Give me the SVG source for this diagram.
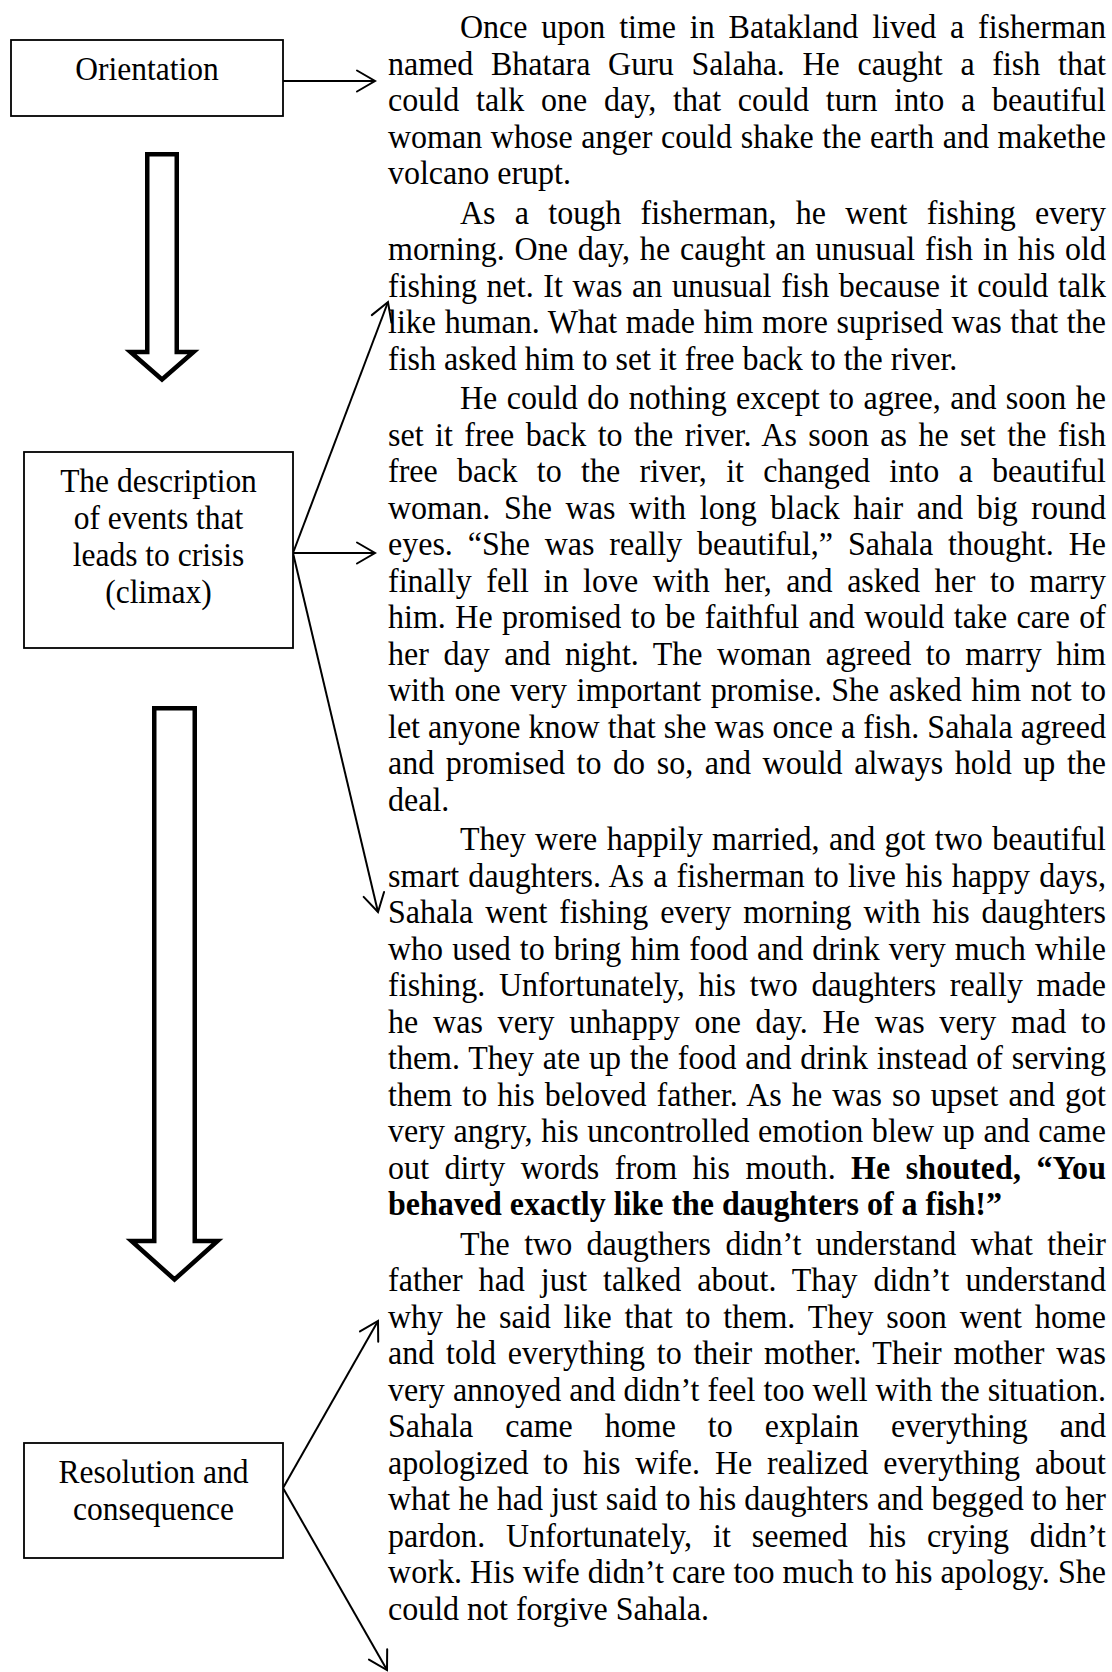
<svg xmlns="http://www.w3.org/2000/svg" width="1112" height="1672" viewBox="0 0 1112 1672">
<style>
.box{fill:#fff;stroke:#000;stroke-width:1.8}
.lbl{font-family:"Liberation Serif","Times New Roman",serif;font-size:31.5px;text-anchor:middle;fill:#000}
.t{font-family:"Liberation Serif","Times New Roman",serif;font-size:32px;fill:#000}
.bd{font-weight:bold}
.conn{stroke:#000;stroke-width:2;fill:none;marker-end:url(#ah)}
.big{fill:#fff;stroke:#000;stroke-width:4.5;stroke-linejoin:miter;stroke-miterlimit:10}
</style>
<defs>
<marker id="ah" markerUnits="userSpaceOnUse" markerWidth="30" markerHeight="30" viewBox="-25 -15 30 30" refX="0" refY="0" orient="auto" overflow="visible">
<path d="M-18,-10.5 L0,0 L-18,10.5" fill="none" stroke="#000" stroke-width="2" stroke-linecap="round" stroke-linejoin="miter"/>
</marker>
</defs>
<rect width="1112" height="1672" fill="#fff"/>

<g id="connectors">
<path class="big" d="M147.25,154.25 H176.75 V352 H193.5 L162,379.5 L130.5,352 H147.25 Z"/>
<path class="big" d="M154.25,708.25 H194.75 V1241 H217.5 L174.5,1279.5 L131.5,1241 H154.25 Z"/>
<path class="conn" d="M283,81 L375,81"/>
<path class="conn" d="M293,553 L388,302"/>
<path class="conn" d="M293,553 L375,553"/>
<path class="conn" d="M293,553 L378,912"/>
<path class="conn" d="M283,1488 L378,1321"/>
<path class="conn" d="M283,1488 L387,1670"/>
</g>

<g id="orientation">
<rect class="box" x="11" y="40" width="272" height="76"/>
<text class="lbl" transform="matrix(1 0 0 1.07 147 80)">Orientation</text>
</g>

<g id="climax">
<rect class="box" x="24" y="452" width="269" height="196"/>
<text class="lbl" transform="matrix(1 0 0 1.07 158.5 491.5)">The description</text>
<text class="lbl" transform="matrix(1 0 0 1.07 158.5 528.5)">of events that</text>
<text class="lbl" transform="matrix(1 0 0 1.07 158.5 565.5)">leads to crisis</text>
<text class="lbl" transform="matrix(1 0 0 1.07 158.5 602.5)">(climax)</text>
</g>

<g id="resolution">
<rect class="box" x="24" y="1443" width="259" height="115"/>
<text class="lbl" transform="matrix(1 0 0 1.07 153.5 1483)">Resolution and</text>
<text class="lbl" transform="matrix(1 0 0 1.07 153.5 1520)">consequence</text>
</g>

<g id="story">
<g id="p1">
<text class="t" transform="matrix(1 0 0 1.07 460 38)" word-spacing="5.83" textLength="646" lengthAdjust="spacing">Once upon time in Batakland lived a fisherman</text>
<text class="t" transform="matrix(1 0 0 1.07 388 74.5)" word-spacing="9.66" textLength="718" lengthAdjust="spacing">named Bhatara Guru Salaha. He caught a fish that</text>
<text class="t" transform="matrix(1 0 0 1.07 388 111)" word-spacing="8.68" textLength="718" lengthAdjust="spacing">could talk one day, that could turn into a beautiful</text>
<text class="t" transform="matrix(1 0 0 1.07 388 147.5)" word-spacing="0.66" textLength="718" lengthAdjust="spacing">woman whose anger could shake the earth and makethe</text>
<text class="t" transform="matrix(1 0 0 1.07 388 184)">volcano erupt.</text>
</g>
<g id="p2">
<text class="t" transform="matrix(1 0 0 1.07 460 223.5)" word-spacing="11.29" textLength="646" lengthAdjust="spacing">As a tough fisherman, he went fishing every</text>
<text class="t" transform="matrix(1 0 0 1.07 388 260)" word-spacing="1.76" textLength="718" lengthAdjust="spacing">morning. One day, he caught an unusual fish in his old</text>
<text class="t" transform="matrix(1 0 0 1.07 388 296.5)" word-spacing="1.68" textLength="718" lengthAdjust="spacing">fishing net. It was an unusual fish because it could talk</text>
<text class="t" transform="matrix(1 0 0 1.07 388 333)" word-spacing="0.58" textLength="718" lengthAdjust="spacing">like human. What made him more suprised was that the</text>
<text class="t" transform="matrix(1 0 0 1.07 388 369.5)">fish asked him to set it free back to the river.</text>
</g>
<g id="p3">
<text class="t" transform="matrix(1 0 0 1.07 460 409)" word-spacing="1.47" textLength="646" lengthAdjust="spacing">He could do nothing except to agree, and soon he</text>
<text class="t" transform="matrix(1 0 0 1.07 388 445.5)" word-spacing="3.28" textLength="718" lengthAdjust="spacing">set it free back to the river. As soon as he set the fish</text>
<text class="t" transform="matrix(1 0 0 1.07 388 482)" word-spacing="11.26" textLength="718" lengthAdjust="spacing">free back to the river, it changed into a beautiful</text>
<text class="t" transform="matrix(1 0 0 1.07 388 518.5)" word-spacing="5.71" textLength="718" lengthAdjust="spacing">woman. She was with long black hair and big round</text>
<text class="t" transform="matrix(1 0 0 1.07 388 555)" word-spacing="6.84" textLength="718" lengthAdjust="spacing">eyes. “She was really beautiful,” Sahala thought. He</text>
<text class="t" transform="matrix(1 0 0 1.07 388 591.5)" word-spacing="6.48" textLength="718" lengthAdjust="spacing">finally fell in love with her, and asked her to marry</text>
<text class="t" transform="matrix(1 0 0 1.07 388 628)" word-spacing="1.5" textLength="718" lengthAdjust="spacing">him. He promised to be faithful and would take care of</text>
<text class="t" transform="matrix(1 0 0 1.07 388 664.5)" word-spacing="6.51" textLength="718" lengthAdjust="spacing">her day and night. The woman agreed to marry him</text>
<text class="t" transform="matrix(1 0 0 1.07 388 701)" word-spacing="1.56" textLength="718" lengthAdjust="spacing">with one very important promise. She asked him not to</text>
<text class="t" transform="matrix(1 0 0 1.07 388 737.5)" word-spacing="0.08" textLength="718" lengthAdjust="spacing">let anyone know that she was once a fish. Sahala agreed</text>
<text class="t" transform="matrix(1 0 0 1.07 388 774)" word-spacing="3.63" textLength="718" lengthAdjust="spacing">and promised to do so, and would always hold up the</text>
<text class="t" transform="matrix(1 0 0 1.07 388 810.5)">deal.</text>
</g>
<g id="p4">
<text class="t" transform="matrix(1 0 0 1.07 460 850)" word-spacing="1.39" textLength="646" lengthAdjust="spacing">They were happily married, and got two beautiful</text>
<text class="t" transform="matrix(1 0 0 1.07 388 886.5)" word-spacing="1.07" textLength="718" lengthAdjust="spacing">smart daughters. As a fisherman to live his happy days,</text>
<text class="t" transform="matrix(1 0 0 1.07 388 923)" word-spacing="3.91" textLength="718" lengthAdjust="spacing">Sahala went fishing every morning with his daughters</text>
<text class="t" transform="matrix(1 0 0 1.07 388 959.5)" word-spacing="1.05" textLength="718" lengthAdjust="spacing">who used to bring him food and drink very much while</text>
<text class="t" transform="matrix(1 0 0 1.07 388 996)" word-spacing="5.6" textLength="718" lengthAdjust="spacing">fishing. Unfortunately, his two daughters really made</text>
<text class="t" transform="matrix(1 0 0 1.07 388 1032.5)" word-spacing="6.66" textLength="718" lengthAdjust="spacing">he was very unhappy one day. He was very mad to</text>
<text class="t" transform="matrix(1 0 0 1.07 388 1069)" word-spacing="0.79" textLength="718" lengthAdjust="spacing">them. They ate up the food and drink instead of serving</text>
<text class="t" transform="matrix(1 0 0 1.07 388 1105.5)" word-spacing="1.93" textLength="718" lengthAdjust="spacing">them to his beloved father. As he was so upset and got</text>
<text class="t" transform="matrix(1 0 0 1.07 388 1142)" word-spacing="0.54" textLength="718" lengthAdjust="spacing">very angry, his uncontrolled emotion blew up and came</text>
<text class="t" transform="matrix(1 0 0 1.07 388 1178.5)" word-spacing="7.3" textLength="718" lengthAdjust="spacing">out dirty words from his mouth. <tspan class="bd">He shouted, “You</tspan></text>
<text class="t bd" transform="matrix(1 0 0 1.07 388 1215)">behaved exactly like the daughters of a fish!”</text>
</g>
<g id="p5">
<text class="t" transform="matrix(1 0 0 1.07 460 1254.5)" word-spacing="6.35" textLength="646" lengthAdjust="spacing">The two daugthers didn’t understand what their</text>
<text class="t" transform="matrix(1 0 0 1.07 388 1291)" word-spacing="7.86" textLength="718" lengthAdjust="spacing">father had just talked about. Thay didn’t understand</text>
<text class="t" transform="matrix(1 0 0 1.07 388 1327.5)" word-spacing="4.87" textLength="718" lengthAdjust="spacing">why he said like that to them. They soon went home</text>
<text class="t" transform="matrix(1 0 0 1.07 388 1364)" word-spacing="3.65" textLength="718" lengthAdjust="spacing">and told everything to their mother. Their mother was</text>
<text class="t" transform="matrix(1 0 0 1.07 388 1400.5)" word-spacing="0" textLength="718" lengthAdjust="spacing">very annoyed and didn’t feel too well with the situation.</text>
<text class="t" transform="matrix(1 0 0 1.07 388 1437)" word-spacing="23.98" textLength="718" lengthAdjust="spacing">Sahala came home to explain everything and</text>
<text class="t" transform="matrix(1 0 0 1.07 388 1473.5)" word-spacing="6.84" textLength="718" lengthAdjust="spacing">apologized to his wife. He realized everything about</text>
<text class="t" transform="matrix(1 0 0 1.07 388 1510)" word-spacing="0.23" textLength="718" lengthAdjust="spacing">what he had just said to his daughters and begged to her</text>
<text class="t" transform="matrix(1 0 0 1.07 388 1546.5)" word-spacing="12.72" textLength="718" lengthAdjust="spacing">pardon. Unfortunately, it seemed his crying didn’t</text>
<text class="t" transform="matrix(1 0 0 1.07 388 1583)" word-spacing="0" textLength="718" lengthAdjust="spacing">work. His wife didn’t care too much to his apology. She</text>
<text class="t" transform="matrix(1 0 0 1.07 388 1619.5)">could not forgive Sahala.</text>
</g>
</g>
</svg>
